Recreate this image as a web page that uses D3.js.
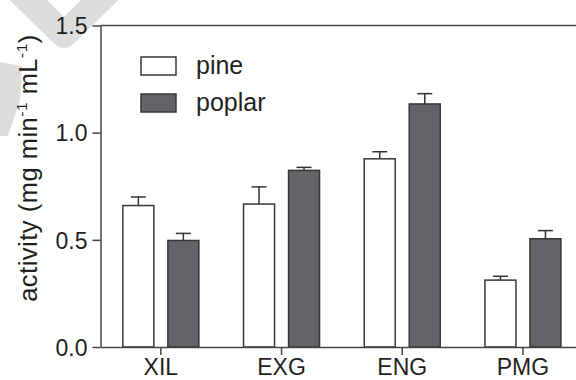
<!DOCTYPE html>
<html>
<head>
<meta charset="utf-8">
<script src="https://cdn.jsdelivr.net/npm/d3@7"></script>
<style>
  html, body { margin: 0; padding: 0; background: #fff; }
  svg { display: block; }
  text { font-family: "Liberation Sans", Arial, sans-serif; fill: #1f1f1f; }
</style>
</head>
<body>
<svg id="chart" width="576" height="380"></svg>
<script>
// Enzyme activity by substrate, for pine and poplar
const categories = ["XIL", "EXG", "ENG", "PMG"];
const seriesNames = ["pine", "poplar"];
const pineValues = [0.66, 0.667, 0.878, 0.312];
const pineErrors = [0.04, 0.08, 0.033, 0.018];
const poplarValues = [0.497, 0.824, 1.134, 0.505];
const poplarErrors = [0.033, 0.014, 0.048, 0.038];
const yTicks = [0, 0.5, 1.0, 1.5];

const svg = d3.select("#chart");
const W = 576, H = 380;
const plotLeft = 100.5, plotBottom = 347, plotTop = 25.5;

const lineColor = "#444444";
const fills = { pine: "#ffffff", poplar: "#646468" };

// light background swoosh mark
const mark = svg.append("g");
mark.append("path").attr("fill", "none").attr("stroke", "#dddddd")
  .attr("stroke-width", 26).attr("stroke-linejoin", "round")
  .attr("d", "M18,-10 L64,35 L114,-14");
mark.append("path").attr("fill", "#dddddd")
  .attr("d", "M0,62 L22,66 L20,100 L8,136 L0,136 Z");

const y = d3.scaleLinear().domain([0, 1.5]).range([plotBottom, plotTop]);
const x = d3.scaleBand().domain(categories).range([plotLeft, 583.3]);
const xs = d3.scaleBand().domain(seriesNames).range([-38, 38]).paddingInner(0.311);

const rows = categories.map((c, i) => ({
  cat: c,
  items: [
    { s: "pine", v: pineValues[i], e: pineErrors[i] },
    { s: "poplar", v: poplarValues[i], e: poplarErrors[i] }
  ]
}));

// top frame line at 1.5
svg.append("line")
  .attr("x1", plotLeft).attr("x2", W)
  .attr("y1", y(1.5)).attr("y2", y(1.5))
  .attr("stroke", lineColor).attr("stroke-width", 1.5);

// bars and upward error bars
const groups = svg.append("g").selectAll("g").data(rows).join("g")
  .attr("transform", d => `translate(${x(d.cat) + x.bandwidth() / 2},0)`);

groups.selectAll("line.err").data(d => d.items).join("line").attr("class", "err")
  .attr("x1", d => xs(d.s) + xs.bandwidth() / 2)
  .attr("x2", d => xs(d.s) + xs.bandwidth() / 2)
  .attr("y1", d => y(d.v)).attr("y2", d => y(d.v + d.e))
  .attr("stroke", "#333").attr("stroke-width", 1.5);

groups.selectAll("line.cap").data(d => d.items).join("line").attr("class", "cap")
  .attr("x1", d => xs(d.s) + xs.bandwidth() / 2 - 7.5)
  .attr("x2", d => xs(d.s) + xs.bandwidth() / 2 + 7.5)
  .attr("y1", d => y(d.v + d.e)).attr("y2", d => y(d.v + d.e))
  .attr("stroke", "#333").attr("stroke-width", 1.5);

groups.selectAll("rect").data(d => d.items).join("rect")
  .attr("x", d => xs(d.s))
  .attr("width", xs.bandwidth())
  .attr("y", d => y(d.v))
  .attr("height", d => y(0) - y(d.v))
  .attr("fill", d => fills[d.s])
  .attr("stroke", "#363636").attr("stroke-width", 1.5);

// y axis
const yAxis = svg.append("g").attr("transform", `translate(${plotLeft},0)`)
  .call(d3.axisLeft(y).tickValues(yTicks).tickFormat(d3.format(".1f")).tickSize(8).tickSizeOuter(0).tickPadding(5));
yAxis.select(".domain").attr("stroke", lineColor).attr("stroke-width", 1.5);
yAxis.selectAll(".tick line").attr("stroke", lineColor).attr("stroke-width", 1.5);
yAxis.selectAll(".tick text").attr("font-size", 23).attr("fill", "#1f1f1f")
  .attr("font-family", "Liberation Sans, Arial, sans-serif").attr("dy", "0.36em");

// x axis
const xAxis = svg.append("g").attr("transform", `translate(0,${plotBottom})`)
  .call(d3.axisBottom(x).tickSize(8).tickSizeOuter(0).tickPadding(4));
xAxis.select(".domain").attr("stroke", lineColor).attr("stroke-width", 1.5);
xAxis.selectAll(".tick line").attr("stroke", lineColor).attr("stroke-width", 1.5);
xAxis.selectAll(".tick text").attr("font-size", 23).attr("fill", "#1f1f1f")
  .attr("font-family", "Liberation Sans, Arial, sans-serif");

// y axis title
const title = svg.append("text")
  .attr("transform", `translate(37,168) rotate(-90)`)
  .attr("text-anchor", "middle").attr("font-size", 25.5)
  .attr("letter-spacing", 0.5);
title.append("tspan").text("activity (mg min");
title.append("tspan").attr("font-size", 15.5).attr("dy", -10).text("-1");
title.append("tspan").attr("dy", 10).text(" mL");
title.append("tspan").attr("font-size", 15.5).attr("dy", -10).text("-1");
title.append("tspan").attr("dy", 10).text(")");

// legend
const legend = svg.append("g").selectAll("g").data(seriesNames).join("g")
  .attr("transform", (d, i) => `translate(141,${57 + i * 37})`);
legend.append("rect").attr("width", 35).attr("height", 18)
  .attr("fill", d => fills[d]).attr("stroke", "#363636").attr("stroke-width", 1.5);
legend.append("text").attr("x", 55).attr("y", 17).attr("font-size", 25).text(d => d);
</script>
</body>
</html>
